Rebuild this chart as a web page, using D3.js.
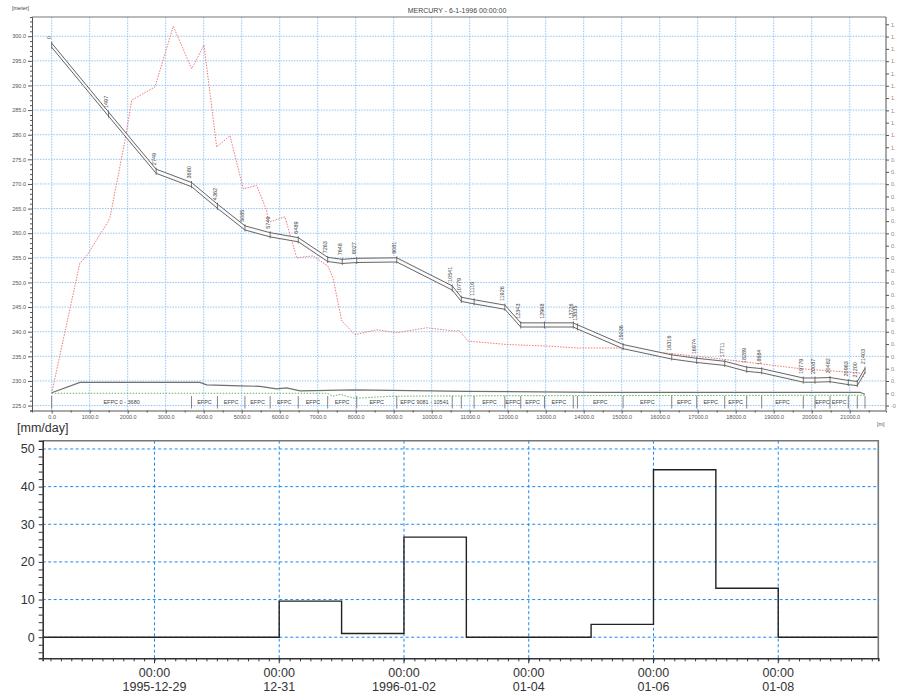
<!DOCTYPE html>
<html><head><meta charset="utf-8">
<script src="https://cdn.jsdelivr.net/npm/d3@7"></script>
<style>body{margin:0;background:#fff}svg{display:block}text{font-family:"Liberation Sans",Arial,sans-serif}</style>
</head><body>
<svg id="c" width="897" height="696"></svg>
<script>
// ---------- DATA ----------
const chartTitle = "MERCURY - 6-1-1996 00:00:00";
const profileChainage = [0,1497,2749,3680,4362,5085,5749,6489,7263,7648,8027,9081,10541,10779,11116,11926,12343,12968,13726,13835,15036,16316,16974,17711,18289,18684,19779,20087,20482,20963,21200,21403];
const profileLabels = ["0","1497","2749","3680","4362","5085","5749","6489","7263","7648","8027","9081","10541","10779","11116","11926","12343","12968","13726","13835","15036","16316","16974","17711","18289","18684","19779","20087","20482","20963","21200","21403"];
const profileLevel = [298.6,284.6,273.0,270.3,265.9,261.5,260.1,259.1,255.1,254.7,254.9,255.0,249.3,247.0,246.5,245.4,241.8,241.8,241.8,241.4,237.4,235.3,234.6,234.0,232.8,232.5,230.6,230.6,230.7,230.1,229.9,232.6];

const redChainage = [0,740,920,1474,1534,1929,2105,2718,3200,3684,4008,4342,4692,5042,5395,5658,5700,6139,6447,6876,7271,7403,7632,7982,8553,9079,9868,10658,10700,10963,11974,13026,13816,14955,17674,19692,21271,21403];
const redLevel = [227.5,253.9,255.4,262.2,263.2,278.8,287.0,289.7,302.0,293.4,298.2,277.5,279.8,269.0,269.7,264.6,262.2,263.3,255.0,255.4,253.3,250.9,242.2,239.4,240.4,239.8,240.8,240.1,240.4,238.1,237.4,237.1,236.7,236.7,234.4,232.5,231.6,230.6];

const grayChainage = [0,745,3900,4080,4955,5480,5920,6180,6535,7982,10920,14430,21270,21400];
const grayLevel = [227.6,229.7,229.7,229.2,229.0,228.9,228.4,228.6,228.0,228.2,227.9,227.7,227.7,227.3];

const greenChainage = [0,7250,7400,7600,7800,8000,9000,12000,21400];
const greenLevel = [227.5,227.5,226.9,227.3,226.8,226.5,226.9,227.0,227.1];

const efpcBreaks = [0,3680,4362,5085,5749,6489,7263,8027,9081,10541,10779,11116,11926,12343,12968,13726,13835,15036,16316,16974,17711,18289,18684,19779,20087,20482,20963,21200,21403];
const efpcLabels = ["EFPC  0 - 3680","EFPC","EFPC","EFPC","EFPC","EFPC","EFPC","EFPC","EFPC  9081 - 10541","","","EFPC","EFPC","EFPC","EFPC","","EFPC","EFPC","EFPC","EFPC","EFPC","","EFPC","","EFPC","EFPC","",""];

const topXTicks = d3.range(0, 21001, 1000);
const topYTicks = d3.range(225, 301, 5);
const rightTickValues = d3.range(0, 32).map(k => -0.05 + k * 0.05);

const rainDays = ["1995-12-27","1995-12-28","1995-12-29","1995-12-30","1995-12-31","1996-01-01","1996-01-02","1996-01-03","1996-01-04","1996-01-05","1996-01-06","1996-01-07","1996-01-08","1996-01-09","1996-01-10"];
const rainValues = [0,0,0,0,9.6,1.0,26.6,0,0,3.4,44.5,13.0,0,0,0];
const rainTickDates = ["1995-12-29","1995-12-31","1996-01-02","1996-01-04","1996-01-06","1996-01-08"];
const rainTickLabels = ["1995-12-29","12-31","1996-01-02","01-04","01-06","01-08"];
const rainYTicks = [0,10,20,30,40,50];

// ---------- DRAW ----------
const svg = d3.select("#c");
const utc = s => new Date(s + "T00:00:00Z");

// ===== Bottom chart =====
const B = {l:42.7, r:878.3, t:440.7, b:658.3};
const x2 = d3.scaleUtc().domain([new Date(Date.UTC(1995,11,27,5,0)), new Date(Date.UTC(1996,0,9,14,30))]).range([B.l, B.r]);
const y2 = d3.scaleLinear().domain([-5.6, 52.2]).range([B.b, B.t]);
const gB = svg.append("g");
const defs = svg.append("defs");
defs.append("clipPath").attr("id","clipB").append("rect")
  .attr("x",B.l).attr("y",B.t).attr("width",B.r-B.l).attr("height",B.b-B.t);
defs.append("clipPath").attr("id","clipLbl").append("rect")
  .attr("x",0).attr("y",422.5).attr("width",200).attr("height",20);

// grid
gB.selectAll(".hg").data(rainYTicks).join("line")
  .attr("x1",B.l).attr("x2",B.r).attr("y1",d=>y2(d)).attr("y2",d=>y2(d))
  .attr("stroke","#1e88f0").attr("stroke-width",1).attr("stroke-dasharray","3,2.5");
gB.selectAll(".vg").data(rainTickDates).join("line")
  .attr("x1",d=>x2(utc(d))).attr("x2",d=>x2(utc(d))).attr("y1",B.t).attr("y2",B.b)
  .attr("stroke","#1e88f0").attr("stroke-width",1).attr("stroke-dasharray","3,2.5");

// step line
const rainPts = rainDays.map((d,i)=>[utc(d), rainValues[i]]);
gB.append("path").datum(rainPts).attr("clip-path","url(#clipB)")
  .attr("fill","none").attr("stroke","#222").attr("stroke-width",1.4)
  .attr("d", d3.line().curve(d3.curveStepAfter).x(d=>x2(d[0])).y(d=>y2(d[1])));

// border top/right
gB.append("path").attr("d",`M${B.l},${B.t}H${B.r}V${B.b}`).attr("fill","none").attr("stroke","#777").attr("stroke-width",1.6);
// axes
const yAx = d3.axisLeft(y2).tickValues(d3.range(-4, 52, 2)).tickSize(4).tickFormat(d => rainYTicks.includes(d) ? d : "");
const gy = gB.append("g").attr("transform",`translate(${B.l},0)`).call(yAx);
gy.select(".domain").attr("stroke","#333").attr("stroke-width",1.6);
gy.selectAll(".tick line").attr("stroke","#333");
gy.selectAll("text").attr("font-size",12.5).attr("fill","#333").attr("x",-8);

const x4h = d3.utcHour.every(4).range(x2.domain()[0], x2.domain()[1]);
const xAx = d3.axisBottom(x2).tickValues(x4h).tickSize(3).tickFormat("");
const gx = gB.append("g").attr("transform",`translate(0,${B.b})`).call(xAx);
gx.select(".domain").attr("stroke","#333").attr("stroke-width",1.6);
gx.selectAll(".tick line").attr("stroke","#333");
const lab = gB.selectAll(".xl").data(rainTickDates).join("g").attr("transform",d=>`translate(${x2(utc(d))},0)`);
lab.append("line").attr("y1",B.b).attr("y2",B.b+5).attr("stroke","#333");
lab.append("text").attr("y",677).attr("text-anchor","middle").attr("font-size",12.5).attr("fill","#333").text("00:00");
lab.append("text").attr("y",691).attr("text-anchor","middle").attr("font-size",12.5).attr("fill","#333").text((d,i)=>rainTickLabels[i]);
gB.append("text").attr("x",17).attr("y",432).attr("font-size",12.5).attr("fill","#333")
  .attr("clip-path","url(#clipLbl)").text("[mm/day]");

// ===== Top chart =====
const T = {l:32, r:886, t:17, b:410.5};
const x = d3.scaleLinear().domain([-518, 21955]).range([T.l, T.r]);
const y = d3.scaleLinear().domain([224, 303.9]).range([T.b, T.t]);
const gT = svg.append("g");
const gridC = "#92c5f7";
gT.selectAll(".tv").data(topXTicks).join("line")
  .attr("x1",d=>x(d)).attr("x2",d=>x(d)).attr("y1",T.t).attr("y2",T.b)
  .attr("stroke",gridC).attr("stroke-width",1).attr("stroke-dasharray","1.5,1.2");
gT.selectAll(".th").data(topYTicks).join("line")
  .attr("x1",T.l).attr("x2",T.r).attr("y1",d=>y(d)).attr("y2",d=>y(d))
  .attr("stroke",gridC).attr("stroke-width",1).attr("stroke-dasharray","1.5,1.2");

const ln = (cs, ls) => d3.line().x((d,i)=>x(cs[i])).y((d,i)=>y(ls[i]))(cs);
gT.append("path").attr("d", ln(greenChainage, greenLevel)).attr("fill","none")
  .attr("stroke","#5cb85c").attr("stroke-width",1).attr("stroke-dasharray","1.5,1.5");
gT.append("path").attr("d", ln(grayChainage, grayLevel)).attr("fill","none")
  .attr("stroke","#707070").attr("stroke-width",1.2);
gT.append("path").attr("d", ln(redChainage, redLevel)).attr("fill","none")
  .attr("stroke","#f07878").attr("stroke-width",1).attr("stroke-dasharray","1.5,1.3");

// profile band
const bandH = 0.85;
const area = d3.area().x((d,i)=>x(profileChainage[i])).y0((d,i)=>y(profileLevel[i]-bandH)).y1((d,i)=>y(profileLevel[i]));
gT.append("path").attr("d", area(profileChainage)).attr("fill","#fafafa");
gT.append("path").attr("d", ln(profileChainage, profileLevel)).attr("fill","none").attr("stroke","#555").attr("stroke-width",0.9);
gT.append("path").attr("d", ln(profileChainage, profileLevel.map(v=>v-bandH))).attr("fill","none").attr("stroke","#555").attr("stroke-width",0.9);
gT.selectAll(".nt").data(profileChainage).join("line")
  .attr("x1",d=>x(d)).attr("x2",d=>x(d))
  .attr("y1",(d,i)=>y(profileLevel[i])-1.5).attr("y2",(d,i)=>y(profileLevel[i]-bandH)+1.5)
  .attr("stroke","#555").attr("stroke-width",0.8);
gT.selectAll(".nl").data(profileChainage).join("text")
  .attr("transform",(d,i)=>`translate(${x(d)-0.5},${y(profileLevel[i])-4}) rotate(-90)`)
  .attr("font-size",5.5).attr("fill","#444").text((d,i)=>profileLabels[i]);

// EFPC strip
gT.selectAll(".eb").data(efpcBreaks).join("line")
  .attr("x1",d=>x(d)).attr("x2",d=>x(d)).attr("y1",396).attr("y2",408.5)
  .attr("stroke","#666").attr("stroke-width",0.8);
gT.selectAll(".el").data(efpcLabels).join("text")
  .attr("x",(d,i)=>(x(efpcBreaks[i])+x(efpcBreaks[i+1]))/2).attr("y",403.5)
  .attr("text-anchor","middle").attr("font-size",5.5).attr("fill","#444").text(d=>d);

// borders & axes
gT.append("line").attr("x1",T.l).attr("x2",T.r).attr("y1",T.t).attr("y2",T.t).attr("stroke","#777").attr("stroke-width",1.2);
const lA = d3.axisLeft(y).tickValues(d3.range(224, 304, 1)).tickSize(2).tickFormat(d => d%5===0 ? d.toFixed(1) : "");
const glA = gT.append("g").attr("transform",`translate(${T.l},0)`).call(lA);
glA.selectAll(".tick line").attr("x2",d=>d%5===0?-4:-2).attr("stroke","#555");
glA.select(".domain").attr("stroke","#555");
glA.selectAll("text").attr("font-size",5.5).attr("fill","#555").attr("x",-6);
const bA = d3.axisBottom(x).tickValues(d3.range(0, 21501, 500)).tickSize(2).tickFormat(d => d%1000===0 ? d.toFixed(1) : "");
const gbA = gT.append("g").attr("transform",`translate(0,${T.b})`).call(bA);
gbA.selectAll(".tick line").attr("y2",d=>d%1000===0?3:2).attr("stroke","#555");
gbA.select(".domain").attr("stroke","#555");
gbA.selectAll("text").attr("font-size",5.5).attr("fill","#555").attr("y",5);
// right axis (labels shown truncated at the page edge as in the reference)
const yR = d3.scaleLinear().domain([-0.05, 1.5]).range([y(225), y(225) - 31*12.3]);
const rA = d3.axisRight(yR).tickValues(rightTickValues).tickSize(3)
  .tickFormat(d => d < -0.001 ? "-0" : (d > 0.975 ? "1." : "0."));
const grA = gT.append("g").attr("transform",`translate(${T.r},0)`).call(rA);
grA.select(".domain").attr("stroke","#555").attr("d",`M0,${T.t}V${T.b}`);
grA.selectAll(".tick line").attr("stroke","#555");
grA.selectAll("text").attr("font-size",5.5).attr("x",5).attr("fill",d=>d>0.975?"#a87878":"#888");

gT.append("text").attr("x",457).attr("y",13).attr("text-anchor","middle").attr("font-size",7).attr("fill","#444").text(chartTitle);
gT.append("text").attr("x",12).attr("y",10).attr("font-size",5.5).attr("fill","#444").text("[meter]");
gT.append("text").attr("x",877).attr("y",426).attr("font-size",5.5).attr("fill","#555").text("[m]");
</script>
</body></html>
